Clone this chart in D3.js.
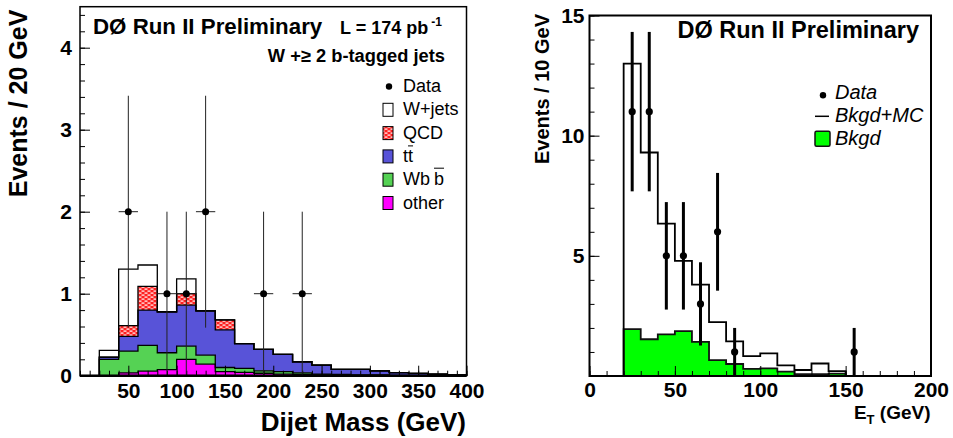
<!DOCTYPE html>
<html><head><meta charset="utf-8">
<script src="https://cdn.jsdelivr.net/npm/d3@7"></script>
<style>body{margin:0;background:#fff;} text{font-family:"Liberation Sans",Arial,Helvetica,sans-serif;}</style>
</head><body><svg id="c" width="953" height="438"></svg>
<script>
// ---------- Left panel: dijet mass ----------
const massBins = [20,40,60,80,100,120,140,160,180,200,220,240,260,280,300,320,340,360,380];
const massBinWidth = 20;
const otherVals = [0.0,0.035,0.055,0.075,0.20,0.14,0.05,0.04,0.03,0.02,0.015,0.01,0.005,0.005,0.003,0.002,0.001,0.001,0.0];
const wbbVals   = [0.20,0.265,0.315,0.205,0.16,0.11,0.05,0.05,0.03,0.03,0.02,0.01,0.01,0.005,0.007,0.003,0.002,0.001,0.001];
const ttbarVals = [0.025,0.18,0.43,0.50,0.50,0.54,0.46,0.30,0.26,0.21,0.135,0.11,0.062,0.067,0.05,0.032,0.025,0.018,0.009];
const qcdVals   = [0,0.13,0.29,0,0.14,0,0.12,0,0,0,0,0,0,0,0,0,0,0,0];
const wjetsVals = [0.085,0.69,0.26,0,0.18,0,0,0,0,0,0,0,0,0,0,0,0,0,0];
const massDataX = [50,90,110,130,190,230];
const massDataY = [2,1,1,2,1,1];
const massXTicks = [50,100,150,200,250,300,350,400];
const massYTicks = [0,1,2,3,4];
const massLegend = ["Data","W+jets","QCD","tt","Wbb","other"];

// ---------- Right panel: E_T ----------
const etBins = [20,30,40,50,60,70,80,90,100,110,120,130,140];
const etBinWidth = 10;
const bkgdMCVals = [13.0,9.3,6.34,4.79,3.80,2.24,1.44,0.83,0.94,0.44,0.25,0.52,0.2];
const bkgdVals   = [1.95,1.53,1.73,1.87,1.42,0.66,0.50,0.30,0.32,0.18,0.08,0.08,0.1];
const etDataX = [25,35,45,55,65,75,85,155];
const etDataY = [11,11,5,5,3,6,1,1];
const etXTicks = [0,50,100,150,200];
const etYTicks = [5,10,15];
const etLegend = ["Data","Bkgd+MC","Bkgd"];

const svg = d3.select("#c");
svg.append("rect").attr("width",953).attr("height",438).attr("fill","#fff");
const defs = svg.append("defs");
const pat = defs.append("pattern").attr("id","qcdPat").attr("patternUnits","userSpaceOnUse")
  .attr("width",6).attr("height",4);
pat.append("rect").attr("width",6).attr("height",4).attr("fill","#ff2020");
pat.append("rect").attr("x",0.5).attr("y",0.5).attr("width",3).attr("height",1.2).attr("fill","#fff");
pat.append("rect").attr("x",3.5).attr("y",2.5).attr("width",3).attr("height",1.2).attr("fill","#fff");
pat.append("rect").attr("x",-2.5).attr("y",2.5).attr("width",3).attr("height",1.2).attr("fill","#fff");

const colors = {other:"#ff00ff", wbb:"#55d254", ttbar:"#5853d8", qcd:"url(#qcdPat)", wjets:"#ffffff"};
const AX = "700 21px 'Liberation Sans', Arial, sans-serif";

// ======== LEFT ========
const xL = d3.scaleLinear().domain([0,400]).range([80,466.5]);
const yL = d3.scaleLinear().domain([0,4.5]).range([375.7,6.7]);

const rows = massBins.map((lo,i)=>({lo, other:otherVals[i], wbb:wbbVals[i], ttbar:ttbarVals[i], qcd:qcdVals[i], wjets:wjetsVals[i]}));
const keys = ["other","wbb","ttbar","qcd","wjets"];
const stacked = d3.stack().keys(keys)(rows);

const gL = svg.append("g");
const lastHiL = massBins[massBins.length-1] + massBinWidth;
stacked.slice().reverse().forEach(layer=>{
  const pts = layer.map((s,i)=>({lo:massBins[i], y0:s[0], y1:s[1]}));
  pts.push({lo:lastHiL, y0:pts[pts.length-1].y0, y1:pts[pts.length-1].y1});
  gL.append("path").datum(pts)
    .attr("d", d3.area().curve(d3.curveStepAfter).x(d=>xL(d.lo)).y0(d=>yL(d.y0)).y1(d=>yL(d.y1)))
    .attr("fill", colors[layer.key]).attr("stroke","none");
});
stacked.forEach(layer=>{
  const pts = [[massBins[0],0]];
  layer.forEach((s,i)=>pts.push([massBins[i], s[1]]));
  pts.push([lastHiL, layer[layer.length-1][1]]);
  pts.push([lastHiL, 0]);
  gL.append("path").datum(pts)
    .attr("d", d3.line().curve(d3.curveStepAfter).x(d=>xL(d[0])).y(d=>yL(d[1])))
    .attr("fill","none").attr("stroke","#000").attr("stroke-width",1.3);
});

function styleAxis(g){ g.select(".domain").remove(); g.selectAll("line").attr("stroke","#000"); }
gL.append("g").attr("transform",`translate(0,${yL(0)})`)
  .call(d3.axisBottom(xL).tickValues(d3.range(0,401,10)).tickSize(-5).tickFormat(""))
  .call(styleAxis);
gL.append("g").attr("transform",`translate(0,${yL(0)})`)
  .call(d3.axisBottom(xL).tickValues(massXTicks).tickSize(-10).tickPadding(7).tickFormat(d3.format("d")))
  .call(styleAxis).selectAll("text").style("font",AX).attr("fill","#000");
gL.append("g").attr("transform",`translate(${xL(0)},0)`)
  .call(d3.axisLeft(yL).tickValues(d3.range(0,4.41,0.2)).tickSize(-5).tickFormat(""))
  .call(styleAxis);
gL.append("g").attr("transform",`translate(${xL(0)},0)`)
  .call(d3.axisLeft(yL).tickValues(massYTicks).tickSize(-10).tickPadding(8).tickFormat(d3.format("d")))
  .call(styleAxis).selectAll("text").style("font",AX).attr("fill","#000");

massDataX.forEach((x,i)=>{
  const y = massDataY[i], e = Math.sqrt(y);
  gL.append("line").attr("x1",xL(x)).attr("x2",xL(x)).attr("y1",yL(y+e)).attr("y2",yL(Math.max(0,y-e)))
    .attr("stroke","#222").attr("stroke-width",1);
  gL.append("line").attr("x1",xL(x-massBinWidth/2)).attr("x2",xL(x+massBinWidth/2)).attr("y1",yL(y)).attr("y2",yL(y))
    .attr("stroke","#222").attr("stroke-width",1);
  gL.append("circle").attr("cx",xL(x)).attr("cy",yL(y)).attr("r",3.5).attr("fill","#000");
});

gL.append("rect").attr("x",xL(0)).attr("y",yL(4.5)).attr("width",xL(400)-xL(0)).attr("height",yL(0)-yL(4.5))
  .attr("fill","none").attr("stroke","#000").attr("stroke-width",1.5);
gL.append("line").attr("x1",xL(0)).attr("x2",xL(400)).attr("y1",yL(0)).attr("y2",yL(0)).attr("stroke","#000").attr("stroke-width",2.5);

gL.append("text").attr("x",93).attr("y",34).style("font","700 22.3px 'Liberation Sans',Arial,sans-serif").text("DØ Run II Preliminary");
const lt = gL.append("text").attr("x",340).attr("y",34).style("font","700 18px 'Liberation Sans',Arial,sans-serif");
lt.append("tspan").text("L = 174 pb");
lt.append("tspan").attr("dx",3).attr("dy",-8).style("font-size","12px").text("-1");
gL.append("text").attr("x",445).attr("y",62.3).attr("text-anchor","end").style("font","700 18.3px 'Liberation Sans',Arial,sans-serif").text("W +≥ 2 b-tagged jets");

gL.append("text").attr("transform","translate(27,103.5) rotate(-90)").attr("text-anchor","middle")
  .style("font","700 25px 'Liberation Sans',Arial,sans-serif").text("Events / 20 GeV");
gL.append("text").attr("x",466).attr("y",431).attr("text-anchor","end")
  .style("font","700 26px 'Liberation Sans',Arial,sans-serif").text("Dijet Mass (GeV)");

const LF = "400 18px 'Liberation Sans',Arial,sans-serif";
const legFills = [null, colors.wjets, colors.qcd, colors.ttbar, colors.wbb, colors.other];
massLegend.forEach((lab,i)=>{
  const by = 92 + i*23.3;
  if(i===0){
    gL.append("circle").attr("cx",389).attr("cy",by-5.5).attr("r",3.2).attr("fill","#000");
  } else {
    gL.append("rect").attr("x",383).attr("y",by-12).attr("width",10).attr("height",13)
      .attr("fill",legFills[i]).attr("stroke","#000").attr("stroke-width",1);
  }
  const t = gL.append("text").attr("x",403).attr("y",by).style("font",LF);
  if(lab==="tt"){
    t.text("t");
    const w = t.node().getComputedTextLength();
    const t2 = gL.append("text").attr("x",403+w).attr("y",by).style("font",LF).text("t");
    const w2 = t2.node().getComputedTextLength();
    gL.append("line").attr("x1",403+w).attr("x2",403+w+w2).attr("y1",by-16).attr("y2",by-16).attr("stroke","#000").attr("stroke-width",1);
  } else if(lab==="Wbb"){
    t.text("Wb");
    const w = t.node().getComputedTextLength() + 4;
    const t2 = gL.append("text").attr("x",403+w).attr("y",by).style("font",LF).text("b");
    const w2 = t2.node().getComputedTextLength();
    gL.append("line").attr("x1",403+w).attr("x2",403+w+w2).attr("y1",by-17).attr("y2",by-17).attr("stroke","#000").attr("stroke-width",1);
  } else t.text(lab);
});

// ======== RIGHT ========
const xR = d3.scaleLinear().domain([0,200]).range([589.5,931]);
const yR = d3.scaleLinear().domain([0,15]).range([376,15.5]);
const gR = svg.append("g");
const lastHiR = etBins[etBins.length-1] + etBinWidth;

function stepLinePts(vals){
  const pts = [[etBins[0],0]];
  vals.forEach((v,i)=>pts.push([etBins[i],v]));
  pts.push([lastHiR, vals[vals.length-1]]);
  pts.push([lastHiR, 0]);
  return pts;
}
const areaPts = etBins.map((lo,i)=>[lo,bkgdVals[i]]);
areaPts.push([lastHiR, bkgdVals[bkgdVals.length-1]]);
gR.append("path").datum(areaPts)
  .attr("d", d3.area().curve(d3.curveStepAfter).x(d=>xR(d[0])).y0(yR(0)).y1(d=>yR(d[1])))
  .attr("fill","#00ff00");
gR.append("path").datum(stepLinePts(bkgdVals))
  .attr("d", d3.line().curve(d3.curveStepAfter).x(d=>xR(d[0])).y(d=>yR(d[1])))
  .attr("fill","none").attr("stroke","#111").attr("stroke-width",1.8);
gR.append("path").datum(stepLinePts(bkgdMCVals))
  .attr("d", d3.line().curve(d3.curveStepAfter).x(d=>xR(d[0])).y(d=>yR(d[1])))
  .attr("fill","none").attr("stroke","#000").attr("stroke-width",1.8);

gR.append("g").attr("transform",`translate(0,${yR(0)})`)
  .call(d3.axisBottom(xR).tickValues(d3.range(0,201,10)).tickSize(-5).tickFormat(""))
  .call(styleAxis);
gR.append("g").attr("transform",`translate(0,${yR(0)})`)
  .call(d3.axisBottom(xR).tickValues(etXTicks).tickSize(-10).tickPadding(6).tickFormat(d3.format("d")))
  .call(styleAxis).selectAll("text").style("font",AX).attr("fill","#000");
gR.append("g").attr("transform",`translate(${xR(0)},0)`)
  .call(d3.axisLeft(yR).tickValues(d3.range(0,15.1,1)).tickSize(-5).tickFormat(""))
  .call(styleAxis);
gR.append("g").attr("transform",`translate(${xR(0)},0)`)
  .call(d3.axisLeft(yR).tickValues(etYTicks).tickSize(-10).tickPadding(5).tickFormat(d3.format("d")))
  .call(styleAxis).selectAll("text").style("font",AX).attr("fill","#000");

etDataX.forEach((x,i)=>{
  const y = etDataY[i], e = Math.sqrt(y);
  gR.append("line").attr("x1",xR(x)).attr("x2",xR(x)).attr("y1",yR(y+e)).attr("y2",yR(Math.max(0,y-e)))
    .attr("stroke","#000").attr("stroke-width",3);
  gR.append("circle").attr("cx",xR(x)).attr("cy",yR(y)).attr("r",3.6).attr("fill","#000");
});

gR.append("rect").attr("x",xR(0)).attr("y",yR(15)).attr("width",xR(200)-xR(0)).attr("height",yR(0)-yR(15))
  .attr("fill","none").attr("stroke","#000").attr("stroke-width",2);

gR.append("text").attr("x",919).attr("y",38.3).attr("text-anchor","end")
  .style("font","700 23.5px 'Liberation Sans',Arial,sans-serif").text("DØ Run II Preliminary");
gR.append("text").attr("transform","translate(549,89) rotate(-90)").attr("text-anchor","middle")
  .style("font","700 20px 'Liberation Sans',Arial,sans-serif").text("Events / 10 GeV");
const xt = gR.append("text").attr("x",930.5).attr("y",419.3).attr("text-anchor","end")
  .style("font","700 19px 'Liberation Sans',Arial,sans-serif");
xt.append("tspan").text("E");
xt.append("tspan").attr("dy",5).style("font-size","13px").text("T");
xt.append("tspan").attr("dy",-5).text(" (GeV)");

const RF = "italic 400 20px 'Liberation Sans',Arial,sans-serif";
etLegend.forEach((lab,i)=>{
  const by = 99.3 + i*23;
  if(i===0) gR.append("circle").attr("cx",823).attr("cy",by-4).attr("r",3.2).attr("fill","#000");
  else if(i===1) gR.append("line").attr("x1",815).attr("x2",829).attr("y1",by-6).attr("y2",by-6).attr("stroke","#000").attr("stroke-width",1.5);
  else gR.append("rect").attr("x",815).attr("y",by-14).attr("width",15).attr("height",15).attr("rx",1.5)
         .attr("fill","#00ff00").attr("stroke","#111").attr("stroke-width",1.5);
  gR.append("text").attr("x",835).attr("y",by).style("font",RF).text(lab);
});
</script></body></html>
